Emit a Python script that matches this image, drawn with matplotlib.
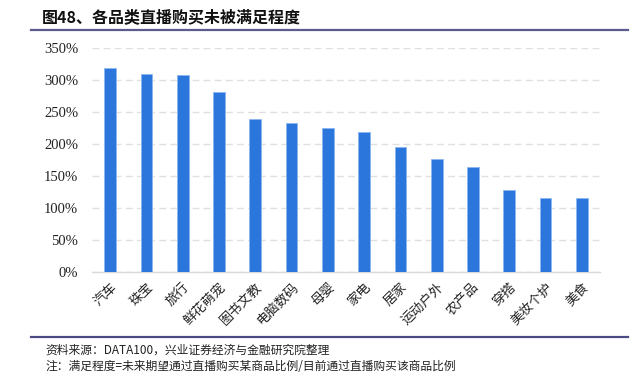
import matplotlib
matplotlib.use('Agg')
import matplotlib.pyplot as plt
from matplotlib.lines import Line2D
from matplotlib.ticker import FuncFormatter

plt.rcParams['font.family'] = ['Noto Sans CJK SC', 'DejaVu Sans']

# 数据
categories = ['汽车', '珠宝', '旅行', '鲜花萌宠', '图书文教', '电脑数码', '母婴',
              '家电', '居家', '运动户外', '农产品', '穿搭', '美妆个护', '美食']
values = [320, 310, 308, 281, 239, 234, 226, 220, 196, 177, 164, 128, 116, 116]
yticks = [0, 50, 100, 150, 200, 250, 300, 350]

title = '图48、各品类直播购买未被满足程度'
source = '资料来源：DATA100，兴业证券经济与金融研究院整理'
note = '注：满足程度=未来期望通过直播购买某商品比例/目前通过直播购买该商品比例'

fig = plt.figure(figsize=(6.39, 3.76), dpi=100)
ax = fig.add_axes([92 / 639, 1 - 272.3 / 376, 508 / 639, (272.3 - 48.3) / 376])

x = range(len(categories))
ax.bar(x, values, width=0.32, color='#2a76dd', edgecolor='#8db6ef', linewidth=0.6, zorder=3)

ax.set_xlim(-0.5, len(categories) - 0.5)
ax.set_ylim(0, 350)
ax.set_yticks(yticks)
ax.yaxis.set_major_formatter(FuncFormatter(lambda v, p: f'{v:.0f}%'))
ax.grid(axis='y', color='#e0e0e0', linestyle=(0, (5, 3)), linewidth=1.0, zorder=0)

for s in ['top', 'right', 'left']:
    ax.spines[s].set_visible(False)
ax.spines['bottom'].set_color('#d9d9d9')
ax.spines['bottom'].set_linewidth(1.0)
ax.tick_params(axis='both', length=0)
ax.tick_params(axis='y', pad=10)

for lab in ax.get_yticklabels():
    lab.set_family(['Liberation Serif', 'DejaVu Serif'])
    lab.set_fontsize(10.5)
    lab.set_color('#222222')

ax.set_xticks(list(x))
ax.set_xticklabels(categories, rotation=45, ha='right', rotation_mode='anchor',
                   fontsize=9.5, color='#222222')
ax.tick_params(axis='x', pad=6)

# 标题和下划线
fig.text(42 / 639, 1 - 17 / 376, title, fontsize=11.5, fontweight='bold',
         va='center', ha='left', color='#111111')
fig.add_artist(Line2D([31 / 639, 628 / 639], [1 - 30 / 376, 1 - 30 / 376],
                      color='#5b5b8e', linewidth=1.6, transform=fig.transFigure))
fig.add_artist(Line2D([31 / 639, 628 / 639], [1 - 337 / 376, 1 - 337 / 376],
                      color='#4a4a85', linewidth=1.6, transform=fig.transFigure))

# 资料来源、注
fig.text(45 / 639, 1 - 350 / 376, source, fontsize=8.5, va='center', ha='left', color='#222222')
fig.text(45 / 639, 1 - 367 / 376, note, fontsize=8.5, va='center', ha='left', color='#222222')

fig.savefig('out.png', dpi=100)
